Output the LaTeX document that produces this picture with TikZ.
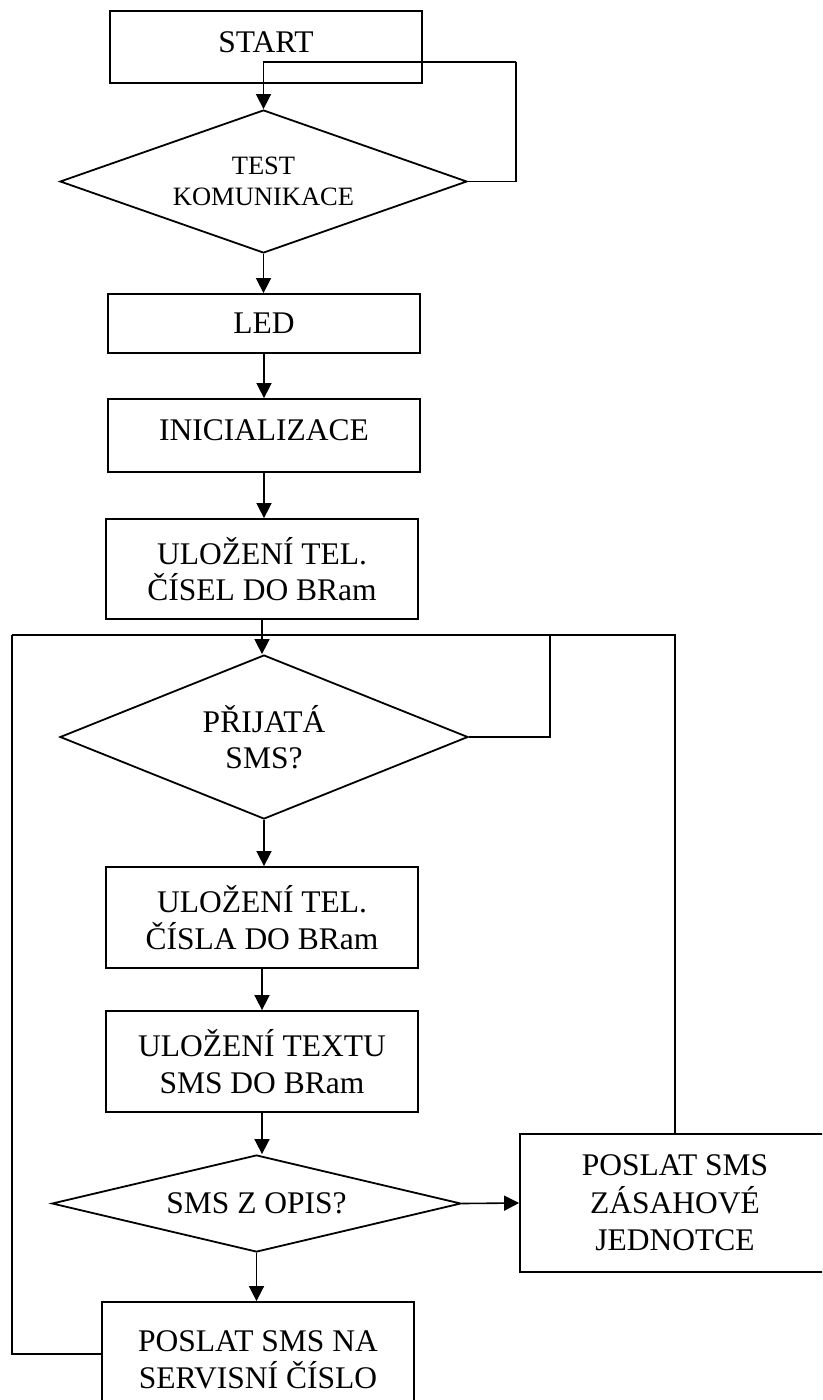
\documentclass[tikz,border=0pt]{standalone}
\usepackage{fontspec}
\setmainfont{Liberation Serif}
\usetikzlibrary{shapes.geometric,arrows.meta}
\begin{document}
\begin{tikzpicture}[x=1pt,y=-1pt,
  every node/.style={inner sep=0pt, align=center,
    font=\fontsize{31.5}{36.5}\selectfont},
  stepbox/.style={draw, rectangle, line width=1.8pt, minimum width=312pt},
  choice/.style={draw, diamond, line width=1.8pt},
  link/.style={line width=1.6pt},
  arr/.style={line width=1.6pt, -{Triangle[length=15pt,width=15pt]}}]

\useasboundingbox (0,0) rectangle (822,1400);
\clip (0,0) rectangle (822,1400);
\fill[white] (0,0) rectangle (822,1400);

% main column
\node[stepbox, minimum height=72pt] (start) at (266,47) {\raisebox{10pt}{START}};
\node[choice, aspect=2.85, minimum width=407pt, minimum height=143pt,
      font=\fontsize{26.5}{30.5}\selectfont] (test) at (263.5,181.5) {TEST\\KOMUNIKACE};
\node[stepbox, minimum height=59pt] (led) at (264,323.5) {LED};
\node[stepbox, minimum height=73pt] (init) at (264,435.5) {\raisebox{10pt}{INICIALIZACE}};
\node[stepbox, minimum height=100pt] (cisla) at (262,569) {ULOŽENÍ TEL.\\ČÍSEL DO BRam};
\node[choice, aspect=2.5, minimum width=408pt, minimum height=164pt] (prijata) at (264,737) {PŘIJATÁ\\SMS?};
\node[stepbox, minimum height=101pt] (cislo) at (262,917.5) {ULOŽENÍ TEL.\\ČÍSLA DO BRam};
\node[stepbox, minimum height=101pt] (textsms) at (262,1061.5) {ULOŽENÍ TEXTU\\SMS DO BRam};
\node[choice, aspect=4.2, minimum width=409pt, minimum height=97pt] (opis) at (256.5,1203.5) {SMS Z OPIS?};
\node[stepbox, minimum width=310pt, minimum height=138pt,
      font=\fontsize{31.5}{37.5}\selectfont] (zasah) at (675,1203) {POSLAT SMS\\ZÁSAHOVÉ\\JEDNOTCE};
\node[stepbox, minimum height=116pt] (servis) at (258,1360) {POSLAT SMS NA\\SERVISNÍ ČÍSLO};

% loop corners
\coordinate (testloop) at (516,62);
\coordinate (topleft) at (12,635);
\coordinate (smsloop) at (550,635);

% communication test loop
\draw[link] (test.east) -| (testloop);
\draw[arr] (testloop) -| (test.north);

% straight flow
\draw[arr] (test.south) -- (test.south |- led.north);
\draw[arr] (led.south) -- (led.south |- init.north);
\draw[arr] (init.south) -- (init.south |- cisla.north);

% return paths into the SMS wait
\draw[link] (zasah.north) |- (topleft);
\draw[link] ([yshift=6pt]servis.west) -| (topleft);
\draw[link] (prijata.east) -| (smsloop);

\draw[arr] (cisla.south) -- (cisla.south |- prijata.north);
\draw[arr] (prijata.south) -- (prijata.south |- cislo.north);
\draw[arr] (cislo.south) -- (cislo.south |- textsms.north);
\draw[arr] (textsms.south) -- (textsms.south |- opis.north);
\draw[arr] (opis.east) -- (zasah.west);
\draw[arr] (opis.south) -- (opis.south |- servis.north);
\end{tikzpicture}
\end{document}
